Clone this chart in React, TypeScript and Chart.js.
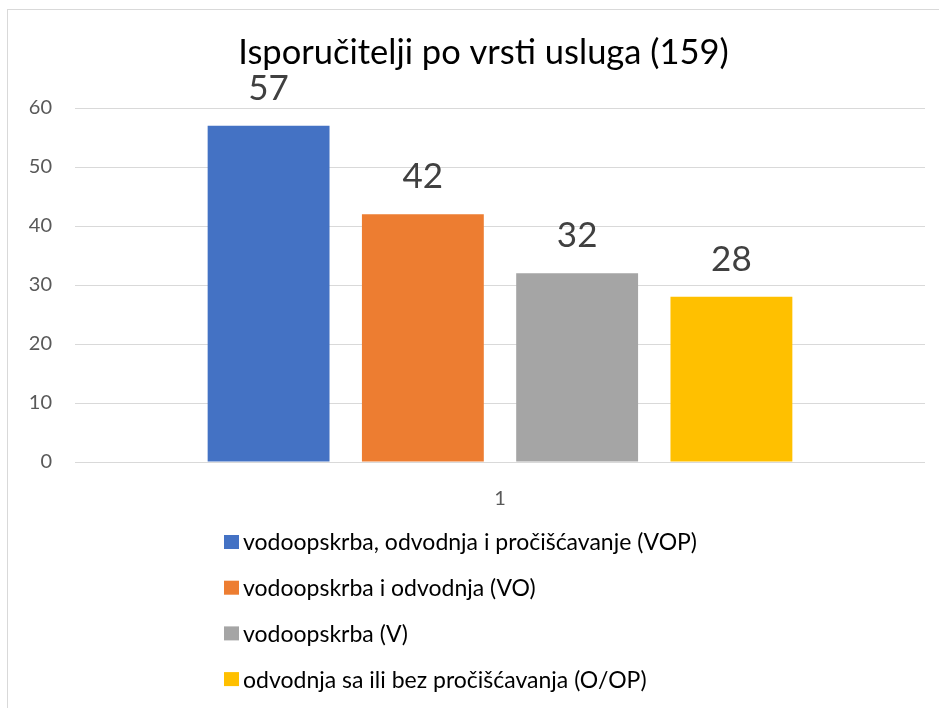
import React, { useEffect, useRef } from "react";
import { Chart, registerables } from "chart.js";

Chart.register(...registerables);

const titleText = "Isporučitelji po vrsti usluga (159)";
const categories = ["1"];
const seriesLabels = [
  "vodoopskrba, odvodnja i pročišćavanje (VOP)",
  "vodoopskrba i odvodnja (VO)",
  "vodoopskrba (V)",
  "odvodnja sa ili bez pročišćavanja (O/OP)",
];
const seriesValues = [57, 42, 32, 28];
const seriesColors = ["#4472C4", "#ED7D31", "#A5A5A5", "#FFC000"];
const yMin = 0;
const yMax = 60;
const yStep = 10;

const FONT = "Lato, 'Noto Sans', sans-serif";

const titlePlugin = {
  id: "offsetTitle",
  afterDraw(chart: any) {
    const ctx = chart.ctx;
    ctx.save();
    ctx.fillStyle = "#000000";
    ctx.font = `34.5px ${FONT}`;
    ctx.textAlign = "center";
    ctx.textBaseline = "alphabetic";
    ctx.fillText(titleText, chart.width / 2 + 10, 54);
    ctx.restore();
  },
};

const valueLabelPlugin = {
  id: "valueLabels",
  afterDatasetsDraw(chart: any) {
    const ctx = chart.ctx;
    ctx.save();
    ctx.fillStyle = "#404040";
    ctx.font = `35px ${FONT}`;
    ctx.textAlign = "center";
    ctx.textBaseline = "alphabetic";
    chart.data.datasets.forEach((ds: any, i: number) => {
      const meta = chart.getDatasetMeta(i);
      meta.data.forEach((el: any, j: number) => {
        ctx.fillText(String(ds.data[j]), el.x, el.y - 26);
      });
    });
    ctx.restore();
  },
};

const listLegendPlugin = {
  id: "listLegend",
  afterDraw(chart: any) {
    const ctx = chart.ctx;
    const area = chart.chartArea;
    const left = area.left + 149;
    const firstY = area.bottom + 80;
    const rowGap = 45.7;
    ctx.save();
    ctx.font = `23px ${FONT}`;
    ctx.textAlign = "left";
    ctx.textBaseline = "middle";
    chart.data.datasets.forEach((ds: any, i: number) => {
      const cy = firstY + i * rowGap;
      ctx.fillStyle = ds.backgroundColor;
      ctx.fillRect(left, cy - 7, 15, 14);
      ctx.fillStyle = "#000000";
      ctx.fillText(ds.label, left + 19, cy + 1);
    });
    ctx.restore();
  },
};

export default function App() {
  const canvasRef = useRef<HTMLCanvasElement | null>(null);

  useEffect(() => {
    if (!canvasRef.current) return;
    const chart = new Chart(canvasRef.current, {
      type: "bar",
      data: {
        labels: categories,
        datasets: seriesLabels.map((label, i) => ({
          label,
          data: [seriesValues[i]],
          backgroundColor: seriesColors[i],
          borderWidth: 0,
        })),
      },
      options: {
        responsive: false,
        animation: false,
        devicePixelRatio: 1,
        categoryPercentage: 0.726,
        barPercentage: 0.79,
        layout: { padding: { left: 0, right: 14, top: 98, bottom: 186 } },
        plugins: {
          legend: { display: false },
          tooltip: { enabled: false },
          title: { display: false },
        },
        scales: {
          x: {
            grid: { display: false },
            border: { display: false },
            ticks: {
              color: "#595959",
              font: { family: FONT, size: 20 },
              padding: 17,
            },
            afterFit(scale: any) {
              scale.height = 60;
            },
          },
          y: {
            min: yMin,
            max: yMax,
            border: { display: false },
            grid: { color: "#d9d9d9", lineWidth: 1, drawTicks: false },
            ticks: {
              stepSize: yStep,
              color: "#595959",
              font: { family: FONT, size: 20 },
              padding: 23,
            },
            afterFit(scale: any) {
              scale.width = 67;
            },
          },
        },
      },
      plugins: [valueLabelPlugin, listLegendPlugin, titlePlugin],
    } as any);
    return () => chart.destroy();
  }, []);

  return (
    <div
      style={{
        position: "absolute",
        left: 7,
        top: 9,
        width: 932,
        height: 699,
        boxSizing: "border-box",
        borderLeft: "1px solid #d9d9d9",
        borderTop: "1px solid #d9d9d9",
        overflow: "hidden",
        background: "#fff",
      }}
    >
      <canvas ref={canvasRef} width={931} height={698} style={{ display: "block" }} />
    </div>
  );
}
